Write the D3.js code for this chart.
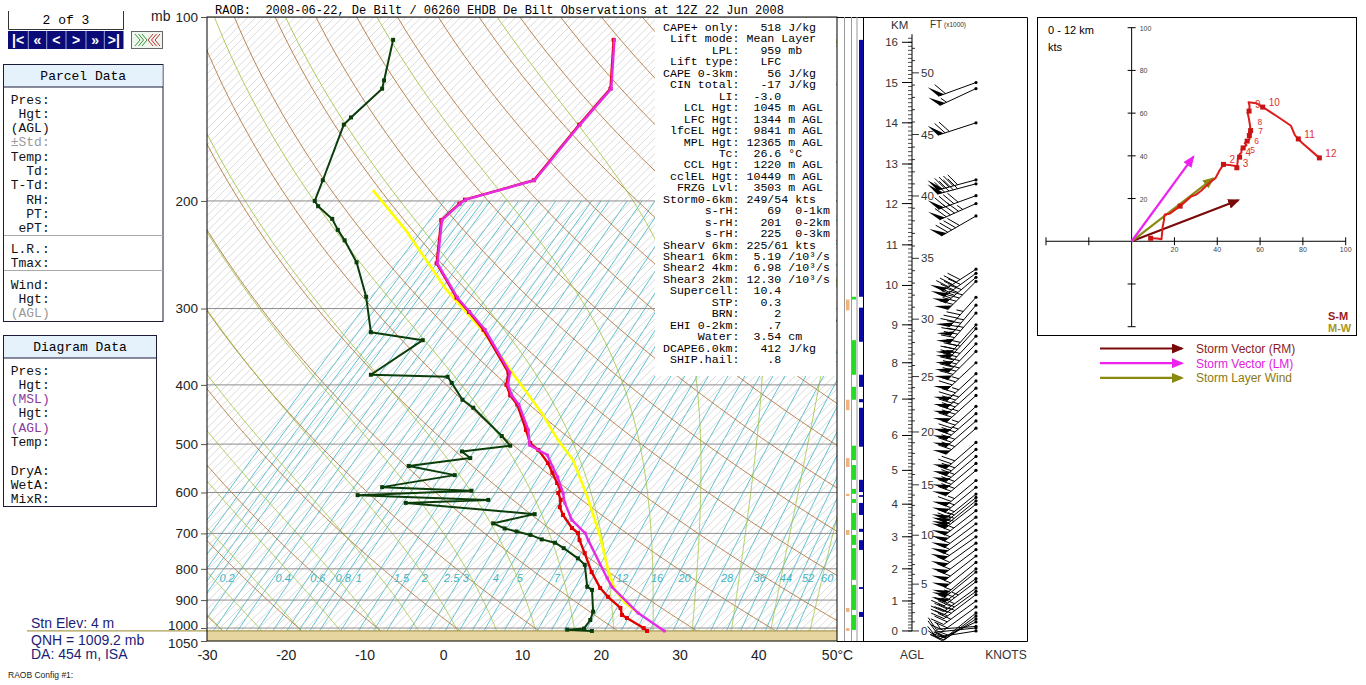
<!DOCTYPE html>
<html>
<head>
<meta charset="utf-8">
<title>RAOB De Bilt 2008-06-22 12Z</title>
<script src="https://cdn.jsdelivr.net/npm/d3@7/dist/d3.min.js"></script>
<style>
  body { margin: 0; background: #fff; }
  svg { display: block; }
</style>
</head>
<body>
<div id="chart"></div>
<script>
// ---- sounding (pressure mb / deg C) ----
var tempP = [1011,1000,963,952,927,889,860,810,754,718,699,686,653,634,617,601,594,579,557,537,511,498,474,431,416,400,382,325,304,288,253,215,202,199,185,150,131,109];
var tempC = [24.6,23.8,20.4,19.4,18.3,15.3,13.2,10.1,6.8,4.5,3.4,2.0,-0.8,-2.2,-3.0,-4.2,-4.3,-5.6,-7.5,-9.3,-12.2,-14.1,-16.3,-20.6,-22.7,-24.5,-25.8,-34.4,-38.5,-41.9,-48.8,-53.7,-53.5,-53.3,-47.0,-48.3,-48.9,-54.7];
var virtP = [1011,945,857,828,718,699,666,624,601,566,545,521,502,474,431,416,400,382,325,304,288,253,215,202,199,185,150,131,109];
var virtC = [26.8,21.2,14.6,12.8,5.6,4.3,1.0,-2.1,-3.6,-6.3,-8.2,-10.4,-13.9,-16.0,-20.4,-22.5,-24.3,-25.6,-34.2,-38.4,-41.8,-48.7,-53.6,-53.4,-53.2,-46.9,-48.2,-48.8,-54.6];
var dewP = [1011,1006,1002,970,940,866,856,788,769,740,725,716,704,695,687,674,651,624,617,606,596,588,562,543,527,514,503,485,436,423,397,388,385,338,328,287,252,232,223,214,204,200,185,150,146,131,127,109];
var dewC = [17.6,14.3,16.3,16.0,15.3,12.4,11.4,8.3,6.6,3.5,1.7,-0.4,-2.4,-4.6,-6.5,-8.6,-4.5,-22.3,-12.2,-29.4,-15.5,-27.3,-19.6,-26.6,-19.8,-21.7,-16.3,-18.6,-25.8,-28.2,-31.7,-33.0,-43.0,-40.8,-48.4,-53.5,-59.1,-63.4,-65.6,-67.7,-71.1,-72.2,-73.8,-78.2,-78.2,-77.9,-78.7,-82.7];
var parcelP = [945,910,866,803,709,610,531,492,445,382,325,280,223,192];
var parcelC = [21.2,18.3,15.3,11.9,6.7,0.0,-6.5,-11.0,-16.4,-25.3,-34.6,-44.1,-57.0,-66.2];
var surfaceP = 1011;

// ---- winds (height km AGL, direction deg, speed kt) ----
var windKm  = [0,0.1,0.15,0.3,0.4,0.5,0.6,0.8,1.0,1.2,1.3,1.4,1.6,1.7,1.9,2.0,2.2,2.4,2.6,2.8,3.0,3.2,3.4,3.6,3.8,4.0,4.1,4.2,4.3,4.5,4.7,5.0,5.2,5.4,5.6,5.8,6.2,6.4,6.6,6.8,7.1,7.3,7.5,7.7,8.0,8.3,8.5,8.7,8.9,9.0,9.3,9.5,9.7,10.1,10.2,10.3,10.4,11.7,12.0,12.2,12.5,12.6,14.0,14.85,15.0];
var windDir = [261,264,266,245,237,233,231,234,234,233,234,234,233,233,231,230,231,232,233,234,235,234,233,233,232,232,231,231,231,231,230,230,230,230,229,229,229,229,229,228,228,228,227,227,227,225,224,223,222,222,221,220,222,225,230,234,237,240,246,250,255,255,252,245,250];
var windKt  = [9,12,14,16,18,19,20,22,28,35,37,40,46,49,53,56,57,58,59,60,60,61,62,62,63,64,65,65,66,66,67,68,69,70,70,71,72,72,73,74,74,75,75,76,76,78,79,80,81,82,84,85,87,88,90,92,91,92,96,92,90,88,70,57,62];

// height axis: pressure at each whole km AGL
var kmTicks = [0,1,2,3,4,5,6,7,8,9,10,11,12,13,14,15,16];
var kmPres  = [1011,903,800,709,627,552,484,422,368,319,275,236,202,174,149,128,110];
var ftTicks = [0,5,10,15,20,25,30,35,40,45,50];

// indicator strips (top mb, bottom mb)
var blueLayers   = [[109,287],[299,340],[385,403],[422,427],[436,505],[572,599],[606,610],[624,653],[688,696],[718,745],[857,863],[941,959]];
var greenLayers  = [[287,290],[338,385],[403,423],[503,531],[541,572],[592,603],[615,624],[648,691],[704,731],[740,834],[850,934],[952,1007]];
var orangeLayers = [[290,302],[423,440],[527,545],[603,608],[691,704],[927,941],[1000,1011]];

// hodograph storm vectors (u, v kt)
var stormRM = [49.8, 19.2];
var stormLM = [28.8, 39.5];
var layerWind = [38.1, 29.4];
var hodoTicks = [-40,-20,20,40,60,80,100];
var hodoLabels = [2,3,4,5,6,7,8,9,10,11,12];

// diagram grid
var pressureTicks = [100,200,300,400,500,600,700,800,900,1000,1050];
var tempTicks = [-30,-20,-10,0,10,20,30,40,50];
var mixLines = [0.1,0.12,0.14,0.16,0.18,0.2,0.25,0.3,0.35,0.4,0.5,0.6,0.7,0.8,0.9,1,1.25,1.5,1.75,2,2.5,3,3.5,4,4.5,5,6,7,8,9,10,12,14,16,18,20,24,28,32,36,40,44,48,52,56,60];
var mixLabels = [0.2,0.4,0.6,0.8,1,1.5,2,2.5,3,4,5,7,12,16,20,28,36,44,52,60];

// index listing
var statLabels = ["CAPE+ only","Lift mode","LPL","Lift type","CAPE 0-3km","CIN total","LI","LCL Hgt","LFC Hgt","lfcEL Hgt","MPL Hgt","Tc","CCL Hgt","cclEL Hgt","FRZG Lvl","Storm0-6km","s-rH","s-rH","s-rH","ShearV 6km","Shear1 6km","Shear2 4km","Shear3 2km","Supercell","STP","BRN","EHI 0-2km","Water","DCAPE6.0km","SHIP.hail"];
var statValues = ["518","Mean Layer","959","LFC","56","-17","-3.0","1045","1344","9841","12365","26.6","1220","10449","3503","249/54","69","201","225","225/61","5.19","6.98","12.30","10.4","0.3","2",".7","3.54","412",".8"];
var statUnits  = ["J/kg","","mb","","J/kg","J/kg","","m AGL","m AGL","m AGL","m AGL","°C","m AGL","m AGL","m AGL","kts"," 0-1km"," 0-2km"," 0-3km","kts","/10³/s","/10³/s","/10³/s","","","","","cm","J/kg",""];

var parcelRows  = ["Pres:"," Hgt:","(AGL)","±Std:","Temp:","  Td:","T-Td:","  RH:","  PT:"," ePT:"];
var parcelRows2 = ["L.R.:","Tmax:"];
var parcelRows3 = ["Wind:"," Hgt:","(AGL)"];
var diagramRows = ["Pres:"," Hgt:","(MSL)"," Hgt:","(AGL)","Temp:","","DryA:","WetA:","MixR:"];

var mono = "'Courier New', 'Liberation Mono', monospace";

var svg = d3.select("#chart").append("svg")
    .attr("width", 1366).attr("height", 685)
    .style("font-family", "Arial, 'Liberation Sans', sans-serif");

var plot = {left: 207, right: 837, top: 17, bottom: 641};
var y = d3.scaleLog().domain([100, 1050]).range([plot.top, plot.bottom]);
var x = d3.scaleLinear().domain([-30, 50]).range([plot.left, plot.right]);
// 45 degree skew
function sx(t, p) { return x(t) + (y(1050) - y(p)); }

var defs = svg.append("defs");
defs.append("clipPath").attr("id", "plotClip")
  .append("rect").attr("x", plot.left).attr("y", plot.top)
  .attr("width", plot.right - plot.left).attr("height", plot.bottom - plot.top);

var bg = svg.append("g").attr("clip-path", "url(#plotClip)");
var curve = d3.line().x(d => sx(d[1], d[0])).y(d => y(d[0]));
var pGrid = d3.range(1050, 99, -5);

// mixing ratio lines
function dewFromMix(w, p) {
  var e = (w / 1000) * p / (0.622 + w / 1000);
  var l = Math.log(e / 6.112);
  return 243.5 * l / (17.67 - l);
}
bg.append("g").selectAll("path").data(mixLines).join("path")
  .attr("d", w => curve(pGrid.filter(p => p >= 200).map(p => [p, dewFromMix(w, p)])))
  .attr("fill", "none").attr("stroke", "#45b9c9").attr("stroke-width", 0.9);

// 1 degree isotherm hatch
bg.append("g").selectAll("line").data(d3.range(-105, 51)).join("line")
  .attr("x1", t => sx(t, 1050)).attr("y1", y(1050))
  .attr("x2", t => sx(t, 100)).attr("y2", y(100))
  .attr("stroke", "#c2c2c2").attr("stroke-width", 0.6);

// dry adiabats
bg.append("g").selectAll("path").data(d3.range(-40, 201, 10)).join("path")
  .attr("d", th => curve(pGrid.map(p => [p, (th + 273.15) * Math.pow(p / 1000, 0.2857) - 273.15])))
  .attr("fill", "none").attr("stroke", "#a8682a").attr("stroke-width", 0.8);

// moist adiabats
function moistLapse(p, tK) {
  var Rd = 287.04, cp = 1005.7, Lv = 2.501e6, eps = 0.622;
  var tc = tK - 273.15;
  var es = 6.112 * Math.exp(17.67 * tc / (tc + 243.5));
  var rs = eps * es / (p - es);
  return (Rd * tK + Lv * rs) / (p * (cp + Lv * Lv * rs * eps / (Rd * tK * tK)));
}
function moistStep(p, t, dp) {
  var k1 = moistLapse(p, t);
  var k2 = moistLapse(p + dp / 2, t + k1 * dp / 2);
  return t + k2 * dp;
}
function moistCurve(tw) {
  var up = [], down = [], t = tw + 273.15, p;
  for (p = 1000; p > 100; p -= 2) { up.push([p, t - 273.15]); t = moistStep(p, t, -2); }
  up.push([100, t - 273.15]);
  t = tw + 273.15;
  for (p = 1000; p < 1050; p += 2) { t = moistStep(p, t, 2); down.push([p + 2, t - 273.15]); }
  return down.reverse().concat(up);
}
bg.append("g").selectAll("path").data(d3.range(-30, 51, 5)).join("path")
  .attr("d", tw => curve(moistCurve(tw)))
  .attr("fill", "none").attr("stroke", "#9dc23c").attr("stroke-width", 0.85);

// isobars
bg.append("g").selectAll("line").data(pressureTicks.filter(p => p < 1050)).join("line")
  .attr("x1", plot.left).attr("x2", plot.right)
  .attr("y1", d => y(d)).attr("y2", d => y(d))
  .attr("stroke", "#8e8e8e").attr("stroke-width", 1);

// mixing ratio labels
svg.append("g").selectAll("text").data(mixLabels).join("text")
  .attr("x", w => sx(dewFromMix(w, 828), 828) + 2)
  .attr("y", y(828) + 4)
  .attr("font-size", 11).attr("font-style", "italic").attr("fill", "#3cb4c6")
  .text(d => d);

// ground below surface
svg.append("rect").attr("x", plot.left).attr("y", y(surfaceP))
  .attr("width", plot.right - plot.left).attr("height", y(1050) - y(surfaceP))
  .attr("fill", "#e6d59e");
svg.append("line").attr("x1", 27).attr("x2", plot.right)
  .attr("y1", y(surfaceP)).attr("y2", y(surfaceP))
  .attr("stroke", "#a89c55").attr("stroke-width", 1.2);

// profiles
function zip(ps, ts) { return ps.map((p, i) => [p, ts[i]]); }
var prof = svg.append("g").attr("clip-path", "url(#plotClip)");
function drawProfile(data, color, w, marker) {
  prof.append("path").attr("d", curve(data)).attr("fill", "none")
    .attr("stroke", color).attr("stroke-width", w).attr("stroke-linejoin", "round");
  if (marker) {
    prof.append("g").selectAll("rect").data(data).join("rect")
      .attr("x", d => sx(d[1], d[0]) - marker / 2).attr("y", d => y(d[0]) - marker / 2)
      .attr("width", marker).attr("height", marker).attr("fill", color);
  }
}
drawProfile(zip(parcelP, parcelC), "#ffff00", 2.6, 0);
drawProfile(zip(dewP, dewC), "#0b3d0b", 2, 4);
drawProfile(zip(tempP, tempC), "#e00000", 2.4, 4);
drawProfile(zip(virtP, virtC), "#e42ce4", 2.4, 3);

// index listing box
svg.append("rect").attr("x", 655).attr("y", 18).attr("width", 181).attr("height", 358).attr("fill", "#fff");
svg.append("g").selectAll("text").data(statLabels).join("text")
  .attr("x", 663).attr("y", (d, i) => 31 + i * 11.45)
  .attr("font-family", mono).attr("font-size", 11.6).attr("fill", "#000")
  .style("white-space", "pre")
  .text((d, i) => (d + ":").padStart(11) + " " + statValues[i].padStart(5) + (statUnits[i] ? " " + statUnits[i] : ""));

// frame and axes
svg.append("rect").attr("x", plot.left).attr("y", plot.top)
  .attr("width", plot.right - plot.left).attr("height", plot.bottom - plot.top)
  .attr("fill", "none").attr("stroke", "#000");

var yAxis = svg.append("g").attr("transform", `translate(${plot.left},0)`)
  .call(d3.axisLeft(y).tickValues(pressureTicks).tickFormat(d3.format("d")).tickSize(6).tickPadding(3));
yAxis.select(".domain").remove();
yAxis.selectAll("text").attr("font-size", 13.5).attr("fill", "#222").attr("font-family", "Arial, 'Liberation Sans', sans-serif")
  .attr("dy", d => d === 1000 ? "0.1em" : d === 1050 ? "0.45em" : "0.32em");
yAxis.selectAll("line").attr("stroke", "#555");

var xAxis = svg.append("g").attr("transform", `translate(0,${plot.bottom})`)
  .call(d3.axisBottom(x).tickValues(tempTicks).tickSize(0).tickPadding(9)
    .tickFormat(d => d === 50 ? "50°C" : d));
xAxis.select(".domain").remove();
xAxis.selectAll("text").attr("font-size", 14).attr("fill", "#222").attr("font-family", "Arial, 'Liberation Sans', sans-serif");

svg.append("text").attr("x", 151).attr("y", 21).attr("font-size", 14).attr("fill", "#222").text("mb");
svg.append("text").attr("x", 215).attr("y", 14).attr("font-family", mono).attr("font-size", 12)
  .style("white-space", "pre")
  .text("RAOB:  2008-06-22, De Bilt / 06260 EHDB De Bilt Observations at 12Z 22 Jun 2008");

// ---- right panel: strips, height axis, wind barbs ----
var rp = svg.append("g");
rp.append("path").attr("d", "M837,17.5H1027.5V641.5H837").attr("fill", "none").attr("stroke", "#000");
[844.5, 851.5, 857].forEach(function(xx) {
  rp.append("line").attr("x1", xx).attr("x2", xx).attr("y1", plot.top).attr("y2", plot.bottom)
    .attr("stroke", "#999");
});
function strip(layers, x0, w, color) {
  rp.append("g").selectAll("rect").data(layers).join("rect")
    .attr("x", x0).attr("width", w)
    .attr("y", d => y(d[0])).attr("height", d => Math.max(1.5, y(d[1]) - y(d[0])))
    .attr("fill", color);
}
strip(orangeLayers, 846, 3.5, "#f2b27c");
strip(greenLayers, 852, 4, "#22dd22");
strip(blueLayers, 859, 4, "#0a0aa8");
rp.append("line").attr("x1", 863.5).attr("x2", 863.5).attr("y1", plot.top).attr("y2", plot.bottom).attr("stroke", "#000");

var kmY = d3.scaleLinear().domain(kmTicks).range(kmPres.map(p => y(p)));
var axX = 912;
rp.append("line").attr("x1", axX).attr("x2", axX).attr("y1", kmY(0)).attr("y2", kmY(16.2)).attr("stroke", "#000");
rp.append("g").selectAll("line").data(d3.range(0, 162)).join("line")
  .attr("x1", axX - 4).attr("x2", axX)
  .attr("y1", d => kmY(d / 10)).attr("y2", d => kmY(d / 10))
  .attr("stroke", "#000").attr("stroke-width", 0.7);
rp.append("g").selectAll("line").data(kmTicks).join("line")
  .attr("x1", axX - 10).attr("x2", axX).attr("y1", d => kmY(d)).attr("y2", d => kmY(d))
  .attr("stroke", "#000");
rp.append("g").selectAll("text").data(kmTicks).join("text")
  .attr("x", axX - 14).attr("y", d => kmY(d) + 4).attr("text-anchor", "end")
  .attr("font-size", 11.5).attr("fill", "#333").text(d => d);
rp.append("g").selectAll("line").data(d3.range(0, 53)).join("line")
  .attr("x1", axX).attr("x2", d => d % 5 === 0 ? axX + 7 : axX + 3)
  .attr("y1", d => kmY(d * 0.3048)).attr("y2", d => kmY(d * 0.3048))
  .attr("stroke", "#000").attr("stroke-width", 0.8);
rp.append("g").selectAll("text").data(ftTicks).join("text")
  .attr("x", axX + 9).attr("y", d => kmY(d * 0.3048) + 4)
  .attr("font-size", 11.5).attr("fill", "#333").text(d => d);
rp.append("text").attr("x", 891).attr("y", 29).attr("font-size", 11.5).attr("fill", "#333").text("KM");
rp.append("text").attr("x", 930).attr("y", 28).attr("font-size", 10).attr("fill", "#333").text("FT");
rp.append("text").attr("x", 944).attr("y", 27).attr("font-size", 6.5).attr("fill", "#333").text("(x1000)");
rp.append("text").attr("x", 912).attr("y", 659).attr("text-anchor", "middle").attr("font-size", 12).attr("fill", "#333").text("AGL");
rp.append("text").attr("x", 1006).attr("y", 659).attr("text-anchor", "middle").attr("font-size", 12).attr("fill", "#333").text("KNOTS");

// wind barbs
var barbs = rp.append("g");
function drawBarb(x0, y0, dir, spd) {
  var L = 40, bl = 14, gap = 4.5, fw = 6;
  var a = dir * Math.PI / 180;
  var ux = Math.sin(a), uy = -Math.cos(a);
  var bx = 0.5 * ux - 0.866 * uy, by = 0.866 * ux + 0.5 * uy;
  function P(d) { return [x0 + ux * d, y0 + uy * d]; }
  var g = barbs.append("g");
  var tail = P(L);
  g.append("line").attr("x1", x0).attr("y1", y0).attr("x2", tail[0]).attr("y2", tail[1])
    .attr("stroke", "#000").attr("stroke-width", 1);
  g.append("circle").attr("cx", x0).attr("cy", y0).attr("r", 1.6).attr("fill", "#000");
  var r = Math.round(spd / 5) * 5;
  var nFlag = Math.floor(r / 50), rem = r - nFlag * 50;
  var nFull = Math.floor(rem / 10), nHalf = rem % 10 >= 5 ? 1 : 0;
  var pos = L;
  for (var i = 0; i < nFlag; i++) {
    var p1 = P(pos), p2 = P(pos - fw);
    g.append("path").attr("d", `M${p1[0]},${p1[1]}L${p1[0] + bx * bl},${p1[1] + by * bl}L${p2[0]},${p2[1]}Z`)
      .attr("fill", "#000");
    pos -= fw + 1.5;
  }
  for (var j = 0; j < nFull; j++) {
    var q = P(pos);
    g.append("line").attr("x1", q[0]).attr("y1", q[1]).attr("x2", q[0] + bx * bl).attr("y2", q[1] + by * bl)
      .attr("stroke", "#000");
    pos -= gap;
  }
  if (nHalf) {
    if (nFlag + nFull === 0) pos -= gap;
    var h = P(pos);
    g.append("line").attr("x1", h[0]).attr("y1", h[1]).attr("x2", h[0] + bx * bl / 2).attr("y2", h[1] + by * bl / 2)
      .attr("stroke", "#000");
  }
}
windKm.forEach(function(k, i) { drawBarb(976, kmY(k), windDir[i], windKt[i]); });

// ---- hodograph ----
var hx = d3.scaleLinear().domain([-40, 100]).range([1046, 1345.7]);
var hy = d3.scaleLinear().domain([-40, 100]).range([326.7, 27.7]);
var hodo = svg.append("g");
hodo.append("rect").attr("x", 1037.5).attr("y", 17.5).attr("width", 319).attr("height", 318)
  .attr("fill", "#fff").attr("stroke", "#000");
hodo.append("line").attr("x1", hx(-40)).attr("x2", hx(100)).attr("y1", hy(0)).attr("y2", hy(0)).attr("stroke", "#000");
hodo.append("line").attr("x1", hx(0)).attr("x2", hx(0)).attr("y1", hy(-40)).attr("y2", hy(100)).attr("stroke", "#000");
hodo.append("g").selectAll("line").data(hodoTicks).join("line")
  .attr("x1", d => hx(d)).attr("x2", d => hx(d)).attr("y1", hy(0) - 4).attr("y2", hy(0) + 4).attr("stroke", "#000");
hodo.append("g").selectAll("line").data(hodoTicks).join("line")
  .attr("y1", d => hy(d)).attr("y2", d => hy(d)).attr("x1", hx(0) - 4).attr("x2", hx(0) + 4).attr("stroke", "#000");
hodo.append("g").selectAll("text").data(hodoTicks.filter(d => d > 0)).join("text")
  .attr("x", d => hx(d)).attr("y", hy(0) + 11).attr("text-anchor", "middle")
  .attr("font-size", 7).attr("fill", "#444").text(d => d);
hodo.append("g").selectAll("text").data(hodoTicks.filter(d => d > 0)).join("text")
  .attr("x", hx(0) + 8).attr("y", d => hy(d) + 3)
  .attr("font-size", 7).attr("fill", "#444").text(d => d);
hodo.append("text").attr("x", 1048).attr("y", 34).attr("font-size", 11).text("0 - 12 km");
hodo.append("text").attr("x", 1048).attr("y", 51).attr("font-size", 11).text("kts");
hodo.append("text").attr("x", 1328).attr("y", 320).attr("font-size", 11).attr("font-weight", "bold").attr("fill", "#9a1c1c").text("S-M");
hodo.append("text").attr("x", 1328).attr("y", 332).attr("font-size", 11).attr("font-weight", "bold").attr("fill", "#a89620").text("M-W");

function arrowMarker(id, color) {
  defs.append("marker").attr("id", id).attr("markerUnits", "userSpaceOnUse")
    .attr("markerWidth", 12).attr("markerHeight", 10).attr("refX", 10).attr("refY", 5)
    .attr("orient", "auto")
    .append("path").attr("d", "M0,0L12,5L0,10Z").attr("fill", color);
}
arrowMarker("arRM", "#7a0a0a");
arrowMarker("arLM", "#ee22ee");
arrowMarker("arLW", "#8a8a10");
function hodoArrow(v, color, id) {
  hodo.append("line").attr("x1", hx(0)).attr("y1", hy(0)).attr("x2", hx(v[0])).attr("y2", hy(v[1]))
    .attr("stroke", color).attr("stroke-width", 2.2).attr("marker-end", `url(#${id})`);
}
hodoArrow(stormRM, "#7a0a0a", "arRM");
hodoArrow(layerWind, "#8a8a10", "arLW");

var windUV = windKm.map((k, i) => {
  var a = windDir[i] * Math.PI / 180;
  return {km: k, u: -windKt[i] * Math.sin(a), v: -windKt[i] * Math.cos(a)};
}).filter(d => d.km <= 12);
hodo.append("path").attr("d", d3.line().x(d => hx(d.u)).y(d => hy(d.v))(windUV))
  .attr("fill", "none").attr("stroke", "#dd1c1c").attr("stroke-width", 2).attr("stroke-linejoin", "round");
hodoArrow(stormLM, "#ee22ee", "arLM");
function uvAt(k) {
  for (var i = 0; i < windUV.length - 1; i++) {
    var a = windUV[i], b = windUV[i + 1];
    if (k >= a.km && k <= b.km) {
      var f = (k - a.km) / (b.km - a.km);
      return [a.u + f * (b.u - a.u), a.v + f * (b.v - a.v)];
    }
  }
  return [windUV[windUV.length - 1].u, windUV[windUV.length - 1].v];
}
hodo.append("g").selectAll("rect").data([0, 1].concat(hodoLabels)).join("rect")
  .attr("x", k => hx(uvAt(k)[0]) - 2.5).attr("y", k => hy(uvAt(k)[1]) - 2.5)
  .attr("width", 5).attr("height", 5).attr("fill", "#c81414");
// label nudges keep the crowded 5-9 km labels legible
var labelShift = {5: [7, 5], 6: [7, 3], 7: [9, -2], 8: [7, -6], 9: [6, -3]};
hodo.append("g").selectAll("text").data(hodoLabels).join("text")
  .attr("x", k => hx(uvAt(k)[0]) + (labelShift[k] ? labelShift[k][0] : 6))
  .attr("y", k => hy(uvAt(k)[1]) + (labelShift[k] ? labelShift[k][1] : -1))
  .attr("font-size", k => (k >= 5 && k <= 8) ? 8.5 : 10).attr("fill", "#e03030").text(k => k);

// legend
var legend = [["Storm Vector (RM)", "#7a0a0a", "arRM", "#8b1c1c"],
              ["Storm Vector (LM)", "#ee22ee", "arLM", "#e020e0"],
              ["Storm Layer Wind", "#8a8a10", "arLW", "#8a7a10"]];
legend.forEach(function(l, i) {
  var ly = 348.5 + i * 14.7;
  svg.append("line").attr("x1", 1100).attr("x2", 1182).attr("y1", ly).attr("y2", ly)
    .attr("stroke", l[1]).attr("stroke-width", 2.2).attr("marker-end", `url(#${l[2]})`);
  svg.append("text").attr("x", 1196).attr("y", ly + 4.5).attr("font-size", 12).attr("fill", l[3]).text(l[0]);
});

// ---- left panels ----
var lp = svg.append("g");
lp.append("path").attr("d", "M8.5,11V29.5H123.5V11").attr("fill", "none").attr("stroke", "#333");
lp.append("text").attr("x", 66).attr("y", 24).attr("text-anchor", "middle")
  .attr("font-family", mono).attr("font-size", 13).text("2 of 3");
lp.append("rect").attr("x", 8).attr("y", 31).attr("width", 115.5).attr("height", 18).attr("fill", "#0b0b78");
var navGlyphs = ["|<", "«", "<", ">", "»", ">|"];
var navEdges = [8, 28.3, 46.7, 66, 86, 104.3, 123.5];
navGlyphs.forEach(function(gl, i) {
  if (i > 0) lp.append("line").attr("x1", navEdges[i]).attr("x2", navEdges[i]).attr("y1", 31).attr("y2", 49)
    .attr("stroke", "#9aa0d8");
  lp.append("text").attr("x", (navEdges[i] + navEdges[i + 1]) / 2).attr("y", 45)
    .attr("text-anchor", "middle").attr("font-size", 14).attr("font-weight", "bold").attr("fill", "#fff").text(gl);
});
lp.append("rect").attr("x", 131.5).attr("y", 31.5).attr("width", 31).attr("height", 17)
  .attr("fill", "#eef6ee").attr("stroke", "#666");
[0, 1, 2].forEach(function(i) {
  lp.append("path").attr("d", `M${135 + i * 3.5},34L${140 + i * 3.5},40L${135 + i * 3.5},46`)
    .attr("fill", "none").attr("stroke", "#3a9a3a");
  lp.append("path").attr("d", `M${153 + i * 3.5},34L${148 + i * 3.5},40L${153 + i * 3.5},46`)
    .attr("fill", "none").attr("stroke", "#c03030");
});

function panel(y0, h, headH, title, w) {
  lp.append("rect").attr("x", 3.5).attr("y", y0).attr("width", w).attr("height", h)
    .attr("fill", "#fff").attr("stroke", "#1a1a3a");
  lp.append("rect").attr("x", 4).attr("y", y0 + 0.5).attr("width", w - 1).attr("height", headH)
    .attr("fill", "#e6f2fb");
  lp.append("line").attr("x1", 3.5).attr("x2", 3.5 + w)
    .attr("y1", y0 + headH + 0.5).attr("y2", y0 + headH + 0.5).attr("stroke", "#1a1a3a");
  lp.append("text").attr("x", 3.5 + w / 2).attr("y", y0 + headH / 2 + 4.5)
    .attr("text-anchor", "middle").attr("font-family", mono).attr("font-size", 13).text(title);
}
function rows(list, y0, step, colorFn) {
  lp.append("g").selectAll("text").data(list).join("text")
    .attr("x", 10.7).attr("y", (d, i) => y0 + i * step)
    .attr("font-family", mono).attr("font-size", 13).style("white-space", "pre")
    .attr("fill", (d, i) => colorFn(d, i)).text(d => d);
}
panel(64.5, 257, 22, "Parcel Data", 159.5);
rows(parcelRows, 103.5, 14.3, d => d === "±Std:" ? "#9a9a9a" : "#111");
lp.append("line").attr("x1", 4).attr("x2", 163).attr("y1", 235.5).attr("y2", 235.5).attr("stroke", "#aaa");
rows(parcelRows2, 252.5, 14.2, () => "#111");
lp.append("line").attr("x1", 4).attr("x2", 163).attr("y1", 270.5).attr("y2", 270.5).attr("stroke", "#aaa");
rows(parcelRows3, 288.5, 14.2, (d, i) => i === 2 ? "#9a9a9a" : "#111");

panel(335.5, 171, 22, "Diagram Data", 153);
rows(diagramRows, 374.5, 14.3, d => (d === "(MSL)" || d === "(AGL)") ? "#8a3a9a" : "#111");

svg.append("text").attr("x", 31).attr("y", 628).attr("font-size", 14).attr("fill", "#1c1c78").text("Stn Elev: 4 m");
svg.append("text").attr("x", 31).attr("y", 645).attr("font-size", 14).attr("fill", "#1c1c78").text("QNH = 1009.2 mb");
svg.append("text").attr("x", 31).attr("y", 659).attr("font-size", 14).attr("fill", "#1c1c78").text("DA: 454 m, ISA");
svg.append("text").attr("x", 8).attr("y", 678).attr("font-size", 8.5).attr("fill", "#222").text("RAOB Config #1:");
</script>
</body>
</html>
